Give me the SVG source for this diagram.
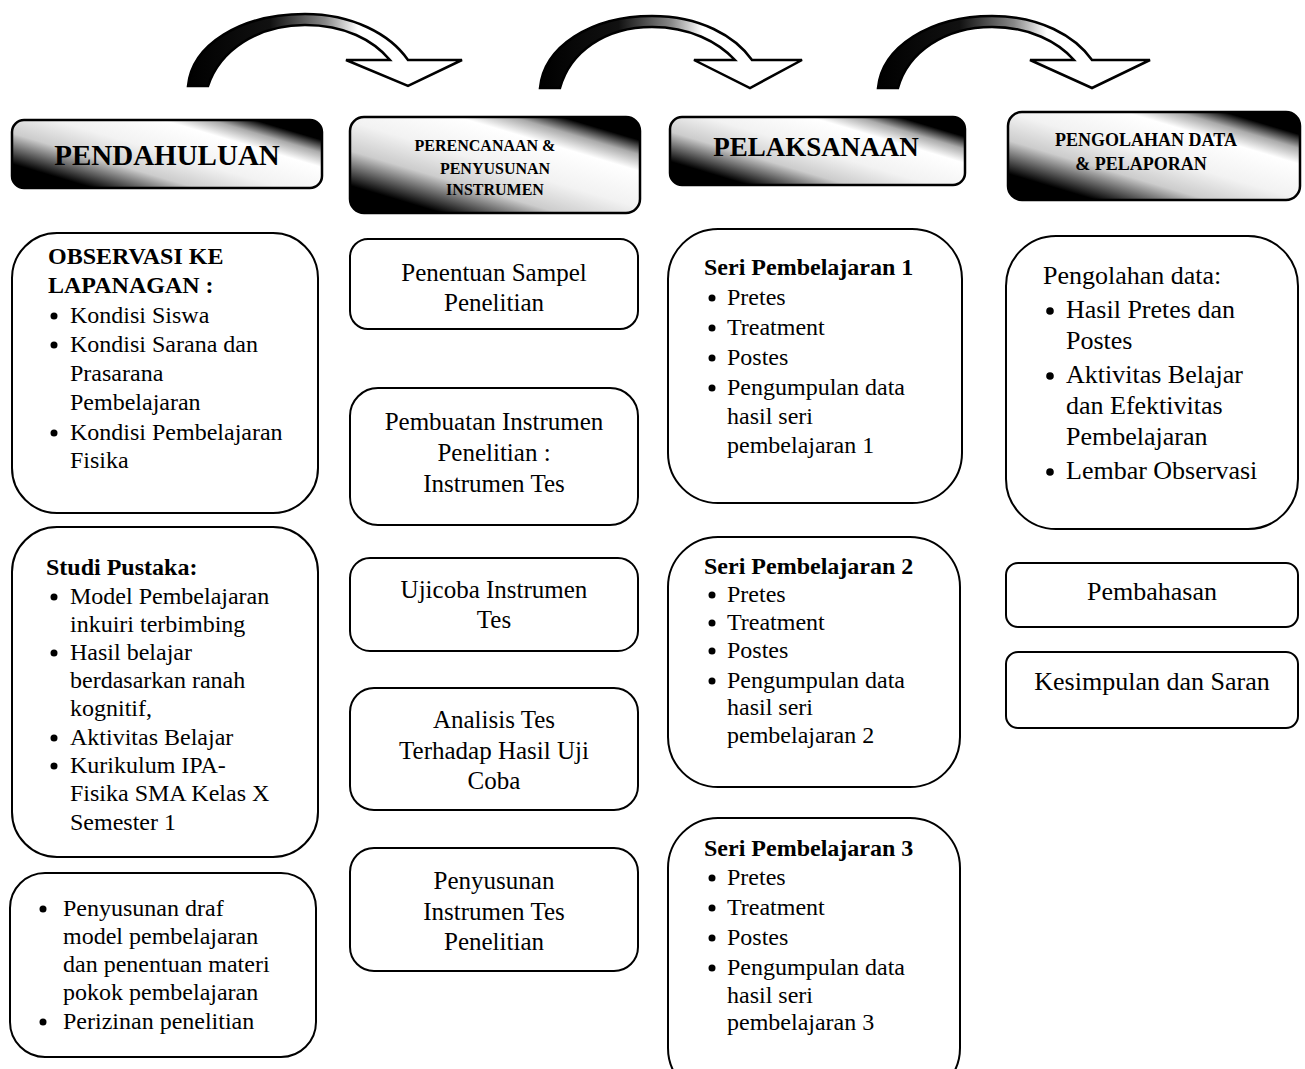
<svg xmlns="http://www.w3.org/2000/svg" width="1305" height="1069" viewBox="0 0 1305 1069">
<style>
.box{fill:#fff;stroke:#000;stroke-width:2}
.hdr{stroke:#000;stroke-width:2.5}
.arr{fill:url(#ag);stroke:#000;stroke-width:2.5;stroke-linejoin:miter}
text{font-family:"Liberation Serif","Times New Roman",serif;fill:#000}
.b{font-weight:bold}
.c{text-anchor:middle}
.s24{font-size:24px}
.s25{font-size:25px}
.s26{font-size:26px}
.dot{fill:#000}
.k0{stop-color:#000}
.k1{stop-color:#ccc}
.k2{stop-color:#f2f2f2}
.k3{stop-color:#fff}
.k4{stop-color:#aaa}
</style>
<defs>
<linearGradient id="hg1" gradientUnits="userSpaceOnUse" x1="12" y1="188" x2="56" y2="40">
<stop offset="0" class="k0"/><stop offset="0.15" class="k0"/><stop offset="0.34" class="k1"/><stop offset="0.5" class="k2"/><stop offset="0.7" class="k3"/><stop offset="0.79" class="k4"/><stop offset="0.87" class="k0"/><stop offset="1" class="k0"/>
</linearGradient>
<linearGradient id="hg2" gradientUnits="userSpaceOnUse" x1="350" y1="213" x2="400" y2="45">
<stop offset="0" class="k0"/><stop offset="0.15" class="k0"/><stop offset="0.34" class="k1"/><stop offset="0.5" class="k2"/><stop offset="0.7" class="k3"/><stop offset="0.79" class="k4"/><stop offset="0.87" class="k0"/><stop offset="1" class="k0"/>
</linearGradient>
<linearGradient id="hg3" gradientUnits="userSpaceOnUse" x1="670" y1="185" x2="713" y2="41">
<stop offset="0" class="k0"/><stop offset="0.15" class="k0"/><stop offset="0.34" class="k1"/><stop offset="0.5" class="k2"/><stop offset="0.7" class="k3"/><stop offset="0.79" class="k4"/><stop offset="0.87" class="k0"/><stop offset="1" class="k0"/>
</linearGradient>
<linearGradient id="hg4" gradientUnits="userSpaceOnUse" x1="1008" y1="200" x2="1056" y2="39">
<stop offset="0" class="k0"/><stop offset="0.15" class="k0"/><stop offset="0.34" class="k1"/><stop offset="0.5" class="k2"/><stop offset="0.7" class="k3"/><stop offset="0.79" class="k4"/><stop offset="0.87" class="k0"/><stop offset="1" class="k0"/>
</linearGradient>
<linearGradient id="ag" x1="0" y1="0" x2="1" y2="0">
<stop offset="0" stop-color="#000"/>
<stop offset="0.3" stop-color="#111"/>
<stop offset="0.5" stop-color="#888"/>
<stop offset="0.62" stop-color="#fff"/>
<stop offset="1" stop-color="#fff"/>
</linearGradient>
</defs>
<rect width="1305" height="1069" fill="#fff"/>

<g id="connectors">
<path class="arr" d="M188,86 C192,45 240,14 305,14 C352,14 390,34 408,60 L462,60 L408,86 L346,60 L390,60 C373,40 345,25 305,25 C258,25 220,50 208,86 Z"/>
<path class="arr" d="M540,88 C544,47 590,16 652,16 C700,16 735,36 752,60 L802,60 L750,88 L694,60 L735,60 C718,42 690,27 652,27 C605,27 570,52 560,88 Z"/>
<path class="arr" d="M878,88 C882,47 930,16 992,16 C1040,16 1075,36 1092,60 L1150,60 L1092,88 L1030,60 L1074,60 C1058,42 1030,27 992,27 C945,27 908,52 898,88 Z"/>
</g>

<g id="hdr-pendahuluan">
<rect class="hdr" fill="url(#hg1)" x="12" y="120" width="310" height="68" rx="12"/>
<text class="b c" x="167" y="165" font-size="29">PENDAHULUAN</text>
</g>
<g id="hdr-perencanaan">
<rect class="hdr" fill="url(#hg2)" x="350" y="117" width="290" height="96" rx="14"/>
<text class="b c" x="485" y="151" font-size="16">PERENCANAAN &amp;</text>
<text class="b c" x="495" y="174" font-size="16">PENYUSUNAN</text>
<text class="b c" x="495" y="195" font-size="16">INSTRUMEN</text>
</g>
<g id="hdr-pelaksanaan">
<rect class="hdr" fill="url(#hg3)" x="670" y="117" width="295" height="68" rx="12"/>
<text class="b c" x="816" y="156" font-size="27">PELAKSANAAN</text>
</g>
<g id="hdr-pengolahan">
<rect class="hdr" fill="url(#hg4)" x="1008" y="112" width="292" height="88" rx="14"/>
<text class="b c" x="1146" y="146" font-size="18">PENGOLAHAN DATA</text>
<text class="b c" x="1141" y="170" font-size="18">&amp; PELAPORAN</text>
</g>

<g id="observasi">
<rect class="box" x="12" y="233" width="306" height="280" rx="45"/>
<text class="b s24" x="48" y="264">OBSERVASI KE</text>
<text class="b s24" x="48" y="293">LAPANAGAN :</text>
<circle class="dot" cx="54" cy="316" r="3.5"/>
<text class="s24" x="70" y="323">Kondisi Siswa</text>
<circle class="dot" cx="54" cy="345" r="3.5"/>
<text class="s24" x="70" y="352">Kondisi Sarana dan</text>
<text class="s24" x="70" y="381">Prasarana</text>
<text class="s24" x="70" y="410">Pembelajaran</text>
<circle class="dot" cx="54" cy="433" r="3.5"/>
<text class="s24" x="70" y="440">Kondisi Pembelajaran</text>
<text class="s24" x="70" y="468">Fisika</text>
</g>

<g id="studi-pustaka">
<rect class="box" x="12" y="527" width="306" height="330" rx="45"/>
<text class="b s24" x="46" y="575">Studi Pustaka:</text>
<circle class="dot" cx="54" cy="597" r="3.5"/>
<text class="s24" x="70" y="604">Model Pembelajaran</text>
<text class="s24" x="70" y="632">inkuiri terbimbing</text>
<circle class="dot" cx="54" cy="653" r="3.5"/>
<text class="s24" x="70" y="660">Hasil belajar</text>
<text class="s24" x="70" y="688">berdasarkan ranah</text>
<text class="s24" x="70" y="716">kognitif,</text>
<circle class="dot" cx="54" cy="738" r="3.5"/>
<text class="s24" x="70" y="745">Aktivitas Belajar</text>
<circle class="dot" cx="54" cy="766" r="3.5"/>
<text class="s24" x="70" y="773">Kurikulum IPA-</text>
<text class="s24" x="70" y="801">Fisika SMA Kelas X</text>
<text class="s24" x="70" y="830">Semester 1</text>
</g>

<g id="penyusunan-draf">
<rect class="box" x="10" y="873" width="306" height="184" rx="35"/>
<circle class="dot" cx="43" cy="909" r="3.5"/>
<text class="s24" x="63" y="916">Penyusunan draf</text>
<text class="s24" x="63" y="944">model pembelajaran</text>
<text class="s24" x="63" y="972">dan penentuan materi</text>
<text class="s24" x="63" y="1000">pokok pembelajaran</text>
<circle class="dot" cx="43" cy="1022" r="3.5"/>
<text class="s24" x="63" y="1029">Perizinan penelitian</text>
</g>

<g id="penentuan-sampel">
<rect class="box" x="350" y="239" width="288" height="90" rx="18"/>
<text class="s25 c" x="494" y="281">Penentuan Sampel</text>
<text class="s25 c" x="494" y="311">Penelitian</text>
</g>
<g id="pembuatan-instrumen">
<rect class="box" x="350" y="388" width="288" height="137" rx="28"/>
<text class="s25 c" x="494" y="430">Pembuatan Instrumen</text>
<text class="s25 c" x="494" y="461">Penelitian :</text>
<text class="s25 c" x="494" y="492">Instrumen Tes</text>
</g>
<g id="ujicoba">
<rect class="box" x="350" y="558" width="288" height="93" rx="20"/>
<text class="s25 c" x="494" y="598">Ujicoba Instrumen</text>
<text class="s25 c" x="494" y="628">Tes</text>
</g>
<g id="analisis">
<rect class="box" x="350" y="688" width="288" height="122" rx="24"/>
<text class="s25 c" x="494" y="728">Analisis Tes</text>
<text class="s25 c" x="494" y="759">Terhadap Hasil Uji</text>
<text class="s25 c" x="494" y="789">Coba</text>
</g>
<g id="penyusunan-instrumen">
<rect class="box" x="350" y="848" width="288" height="123" rx="24"/>
<text class="s25 c" x="494" y="889">Penyusunan</text>
<text class="s25 c" x="494" y="920">Instrumen Tes</text>
<text class="s25 c" x="494" y="950">Penelitian</text>
</g>

<g id="seri-1">
<rect class="box" x="668" y="229" width="294" height="274" rx="50"/>
<text class="b s24" x="704" y="275">Seri Pembelajaran 1</text>
<circle class="dot" cx="712" cy="298" r="3.5"/>
<text class="s24" x="727" y="305">Pretes</text>
<circle class="dot" cx="712" cy="328" r="3.5"/>
<text class="s24" x="727" y="335">Treatment</text>
<circle class="dot" cx="712" cy="358" r="3.5"/>
<text class="s24" x="727" y="365">Postes</text>
<circle class="dot" cx="712" cy="388" r="3.5"/>
<text class="s24" x="727" y="395">Pengumpulan data</text>
<text class="s24" x="727" y="424">hasil seri</text>
<text class="s24" x="727" y="453">pembelajaran 1</text>
</g>
<g id="seri-2">
<rect class="box" x="668" y="537" width="292" height="250" rx="50"/>
<text class="b s24" x="704" y="574">Seri Pembelajaran 2</text>
<circle class="dot" cx="712" cy="595" r="3.5"/>
<text class="s24" x="727" y="602">Pretes</text>
<circle class="dot" cx="712" cy="623" r="3.5"/>
<text class="s24" x="727" y="630">Treatment</text>
<circle class="dot" cx="712" cy="651" r="3.5"/>
<text class="s24" x="727" y="658">Postes</text>
<circle class="dot" cx="712" cy="681" r="3.5"/>
<text class="s24" x="727" y="688">Pengumpulan data</text>
<text class="s24" x="727" y="715">hasil seri</text>
<text class="s24" x="727" y="743">pembelajaran 2</text>
</g>
<g id="seri-3">
<rect class="box" x="668" y="818" width="292" height="280" rx="50"/>
<text class="b s24" x="704" y="856">Seri Pembelajaran 3</text>
<circle class="dot" cx="712" cy="878" r="3.5"/>
<text class="s24" x="727" y="885">Pretes</text>
<circle class="dot" cx="712" cy="908" r="3.5"/>
<text class="s24" x="727" y="915">Treatment</text>
<circle class="dot" cx="712" cy="938" r="3.5"/>
<text class="s24" x="727" y="945">Postes</text>
<circle class="dot" cx="712" cy="968" r="3.5"/>
<text class="s24" x="727" y="975">Pengumpulan data</text>
<text class="s24" x="727" y="1003">hasil seri</text>
<text class="s24" x="727" y="1030">pembelajaran 3</text>
</g>

<g id="pengolahan-data">
<rect class="box" x="1006" y="236" width="292" height="293" rx="50"/>
<text class="s26" x="1043" y="284">Pengolahan data:</text>
<circle class="dot" cx="1050" cy="311" r="3.8"/>
<text class="s26" x="1066" y="318">Hasil Pretes dan</text>
<text class="s26" x="1066" y="349">Postes</text>
<circle class="dot" cx="1050" cy="376" r="3.8"/>
<text class="s26" x="1066" y="383">Aktivitas Belajar</text>
<text class="s26" x="1066" y="414">dan Efektivitas</text>
<text class="s26" x="1066" y="445">Pembelajaran</text>
<circle class="dot" cx="1050" cy="472" r="3.8"/>
<text class="s26" x="1066" y="479">Lembar Observasi</text>
</g>
<g id="pembahasan">
<rect class="box" x="1006" y="563" width="292" height="64" rx="12"/>
<text class="s26 c" x="1152" y="600">Pembahasan</text>
</g>
<g id="kesimpulan">
<rect class="box" x="1006" y="652" width="292" height="76" rx="12"/>
<text class="s26 c" x="1152" y="690">Kesimpulan dan Saran</text>
</g>
</svg>
